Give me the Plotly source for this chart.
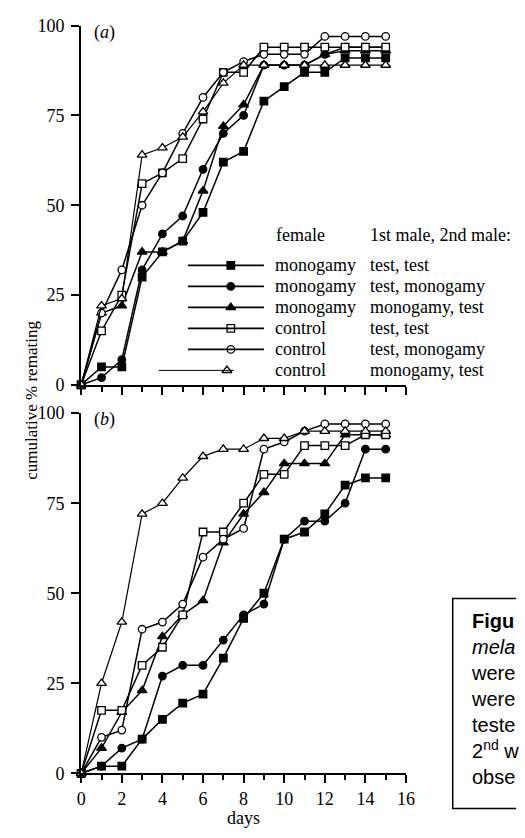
import plotly.graph_objects as go

W, H = 525, 838

days = list(range(16))

# Panel (a) cumulative % remating
a_mono_tt = [0, 5, 5, 30, 37, 40, 48, 62, 65, 79, 83, 87, 87, 91, 91, 91]
a_mono_tm = [0, 2, 7, 32, 42, 47, 60, 70, 75, 89, 89, 89, 92, 94, 94, 94]
a_mono_mt = [0, 20, 22, 37, 37, 40, 54, 72, 78, 89, 89, 89, 92, 93, 93, 93]
a_ctrl_tt = [0, 15, 25, 56, 59, 63, 74, 87, 87, 94, 94, 94, 94, 94, 94, 94]
a_ctrl_tm = [0, 20, 32, 50, 59, 70, 80, 87, 90, 92, 92, 92, 97, 97, 97, 97]
a_ctrl_mt = [0, 22, 24, 64, 66, 69, 76, 84, 89, 89, 89, 89, 89, 89, 89, 89]

# Panel (b)
b_mono_tt = [0, 2, 2, 9.5, 15, 19.5, 22, 32, 43, 50, 65, 67, 72, 80, 82, 82]
b_mono_tm = [0, 2, 7, 9.5, 27, 30, 30, 37, 44, 47, 65, 70, 70, 75, 90, 90]
b_mono_mt = [0, 7, 17, 23, 38, 44, 48, 64, 72, 78, 86, 86, 86, 94, 94, 94]
b_ctrl_tt = [0, 17.5, 17.5, 30, 35, 44, 67, 67, 75, 83, 83, 91, 91, 91, 94, 94]
b_ctrl_tm = [0, 10, 12, 40, 42, 47, 60, 65, 68, 90, 92, 95, 97, 97, 97, 97]
b_ctrl_mt = [0, 25, 42, 72, 75, 82, 88, 90, 90, 93, 93, 95, 95, 95, 95, 95]

female_labels = ["monogamy", "monogamy", "monogamy", "control", "control", "control"]
male_labels = ["test, test", "test, monogamy", "monogamy, test",
               "test, test", "test, monogamy", "monogamy, test"]
y_ticks = [0, 25, 50, 75, 100]
x_ticks = [0, 2, 4, 6, 8, 10, 12, 14, 16]

caption_lines = ["<b>Figu</b>", "<i>mela</i>", "were", "were", "teste",
                 "2<sup>nd</sup> w", "obse"]

# styles: (symbol, fill, line width)
styles = [
    ("square", "black", 1.5),
    ("circle", "black", 1.5),
    ("triangle-up", "black", 1.5),
    ("square", "white", 1.5),
    ("circle", "white", 1.5),
    ("triangle-up", "white", 1.2),
]
sizes = {"square": 7.5, "circle": 7.5, "triangle-up": 8.5}

panel_a = [a_mono_tt, a_mono_tm, a_mono_mt, a_ctrl_tt, a_ctrl_tm, a_ctrl_mt]
panel_b = [b_mono_tt, b_mono_tm, b_mono_mt, b_ctrl_tt, b_ctrl_tm, b_ctrl_mt]

fig = go.Figure()

for panel, (xa, ya) in ((panel_a, ("x", "y")), (panel_b, ("x2", "y2"))):
    for series, (sym, fill, lw) in zip(panel, styles):
        fig.add_trace(go.Scatter(
            x=days, y=series, xaxis=xa, yaxis=ya, mode="lines+markers",
            line=dict(color="black", width=lw),
            marker=dict(symbol=sym, size=sizes[sym], color=fill,
                        line=dict(color="black", width=1.3)),
            cliponaxis=False, showlegend=False, hoverinfo="skip"))


def px_x(p):
    return p / W


def px_y(p):
    return 1 - p / H


X0, X1 = 78.3, 412.0
serif = "Times New Roman, Liberation Serif, DejaVu Serif, serif"
sans = "Arial, Liberation Sans, sans-serif"
axis_common = dict(
    showline=True, linewidth=2, linecolor="black", ticks="outside",
    ticklen=8, tickwidth=1.5, tickcolor="black", showgrid=False,
    zeroline=False, mirror=False,
    tickfont=dict(family=serif, size=18, color="black"))

xax = dict(axis_common, domain=[px_x(X0), px_x(X1)], range=[0, 16],
           tickmode="array", tickvals=x_ticks,
           minor=dict(dtick=1, tick0=0, ticks="outside", ticklen=5,
                      tickwidth=1.5, tickcolor="black", showgrid=False))
yax = dict(axis_common, range=[0, 100], tickmode="array", tickvals=y_ticks,
           ticklabelstandoff=3)

fig.update_layout(
    width=W, height=H, margin=dict(l=0, r=0, t=0, b=0),
    paper_bgcolor="white", plot_bgcolor="rgba(0,0,0,0)",
    font=dict(family=serif, size=18, color="black"),
    xaxis=dict(xax, anchor="y", showticklabels=False),
    yaxis=dict(yax, anchor="x", domain=[px_y(384), px_y(16)]),
    xaxis2=dict(xax, anchor="y2", showticklabels=True),
    yaxis2=dict(yax, anchor="x2", domain=[px_y(782), px_y(413)]),
    xaxis3=dict(domain=[0, 1], range=[0, W], showline=False, showgrid=False,
                zeroline=False, showticklabels=False, ticks="",
                anchor="y3", fixedrange=True),
    yaxis3=dict(domain=[0, 1], range=[H, 0], showline=False, showgrid=False,
                zeroline=False, showticklabels=False, ticks="",
                anchor="x3", fixedrange=True),
    showlegend=False,
)

annotations = []
shapes = []

# legend (drawn manually)
leg_y0, leg_dy = 261.7, 21.5
for i, ((sym, fill, lw), fem, male) in enumerate(zip(styles, female_labels, male_labels)):
    yy = leg_y0 + leg_dy * i
    if i < 5:
        lx0, lx1, mx, lwid = 188, 266, 232, 1.8
    else:
        lx0, lx1, mx, lwid = 158, 235, 228, 1.0
    shapes.append(dict(type="line", xref="x3", yref="y3", x0=lx0, x1=lx1,
                       y0=yy, y1=yy, line=dict(color="black", width=lwid)))
    fig.add_trace(go.Scatter(
        x=[mx], y=[yy], xaxis="x3", yaxis="y3", mode="markers",
        marker=dict(symbol=sym, size=sizes[sym], color=fill,
                    line=dict(color="black", width=1.3)),
        cliponaxis=False, showlegend=False, hoverinfo="skip"))
    annotations.append(dict(xref="x3", yref="y3", x=275, y=yy, text=fem,
                            showarrow=False, xanchor="left", yanchor="middle",
                            font=dict(family=serif, size=18, color="black")))
    annotations.append(dict(xref="x3", yref="y3", x=373, y=yy, text=male,
                            showarrow=False, xanchor="left", yanchor="middle",
                            font=dict(family=serif, size=18, color="black")))

annotations.append(dict(xref="x3", yref="y3", x=276, y=231, text="female",
                        showarrow=False, xanchor="left", yanchor="middle",
                        font=dict(family=serif, size=18, color="black")))
annotations.append(dict(xref="x3", yref="y3", x=373, y=231,
                        text="1st male, 2nd male:", showarrow=False,
                        xanchor="left", yanchor="middle",
                        font=dict(family=serif, size=18, color="black")))

# panel labels
annotations.append(dict(xref="x3", yref="y3", x=89, y=23, text="(<i>a</i>)",
                        showarrow=False, xanchor="left", yanchor="middle",
                        font=dict(family=serif, size=18, color="black")))
annotations.append(dict(xref="x3", yref="y3", x=89, y=420, text="(<i>b</i>)",
                        showarrow=False, xanchor="left", yanchor="middle",
                        font=dict(family=serif, size=18, color="black")))

# axis titles
annotations.append(dict(xref="x3", yref="y3", x=27, y=400,
                        text="cumulative % remating", textangle=-90,
                        showarrow=False, xanchor="center", yanchor="middle",
                        font=dict(family=serif, size=17, color="black")))
annotations.append(dict(xref="x3", yref="y3", x=245, y=828, text="days",
                        showarrow=False, xanchor="center", yanchor="middle",
                        font=dict(family=serif, size=18, color="black")))

# caption box (cut by the right edge)
shapes.append(dict(type="rect", xref="x3", yref="y3", x0=460, x1=540,
                   y0=603, y1=818, line=dict(color="black", width=1.5),
                   fillcolor="rgba(0,0,0,0)"))
annotations.append(dict(xref="x3", yref="y3", x=478, y=614,
                        text="<br>".join(caption_lines), align="left",
                        showarrow=False, xanchor="left", yanchor="top",
                        borderpad=0,
                        font=dict(family=sans, size=20, color="black")))

fig.update_layout(annotations=annotations, shapes=shapes)

fig.write_html("out.html")
